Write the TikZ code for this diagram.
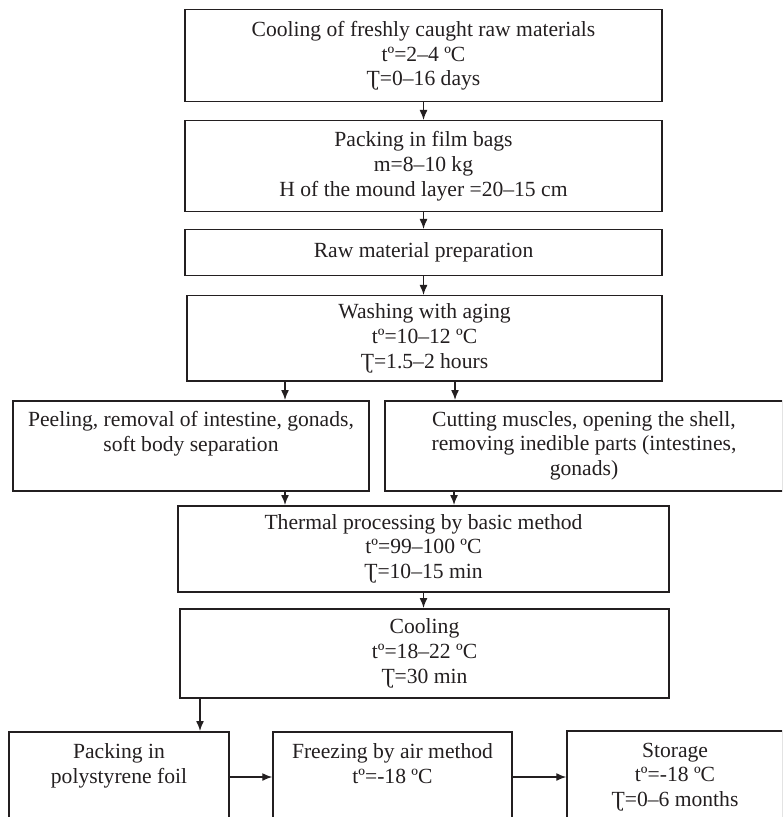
\documentclass[tikz,border=0pt]{standalone}
\usepackage{fontspec}
\setmainfont{Liberation Serif}
\usepackage{tikz}
\usetikzlibrary{arrows.meta}
\definecolor{ink}{RGB}{35,31,32}

\begin{document}
\begin{tikzpicture}[x=0.5pt,y=-0.5pt,
    box/.style={draw=ink,text=ink,line width=0.75pt,align=center,anchor=north,inner xsep=2pt,font=\fontsize{10.8}{12.4}\selectfont},
    openbox/.style={box,inner ysep=6pt,text depth=60pt},
    flow/.style={draw=ink,line width=0.7pt,-{Latex[length=5pt,width=4pt]}}]
  \path[use as bounding box,clip] (0,0) rectangle (782,817);
  \node[box,minimum width=238.5pt,minimum height=46pt](chill) at (423.5,9){Cooling of freshly caught raw materials\\tº=2–4 ºC\\Ʈ=0–16 days};
  \node[box,minimum width=238.5pt,minimum height=45.5pt](bag) at (423.5,120){Packing in film bags\\m=8–10 kg\\H of the mound layer =20–15 cm};
  \node[box,minimum width=238.5pt,minimum height=23pt](prep) at (423.5,229){Raw material preparation};
  \node[box,minimum width=237.5pt,minimum height=42.5pt](wash) at (424.5,295){Washing with aging\\tº=10–12 ºC\\Ʈ=1.5–2 hours};
  \node[box,minimum width=178pt,minimum height=45pt,text depth=14.7pt](peel) at (191,400){Peeling, removal of intestine, gonads,\\soft body separation};
  \node[box,minimum width=199pt,minimum height=45pt](shell) at (584,400){Cutting muscles, opening the shell,\\removing inedible parts (intestines,\\gonads)};
  \node[box,minimum width=245.5pt,minimum height=43pt](heat) at (423.5,505){Thermal processing by basic method\\tº=99–100 ºC\\Ʈ=10–15 min};
  \node[box,minimum width=244.5pt,minimum height=44.5pt](cool) at (424.5,608){Cooling\\tº=18–22 ºC\\Ʈ=30 min};
  \node[openbox,minimum width=110pt](foil) at (119,731){Packing in\\polystyrene foil};
  \node[openbox,minimum width=119.5pt](freeze) at (392.5,731){Freezing by air method\\tº=-18 ºC};
  \node[openbox,minimum width=108pt](store) at (675,730){Storage\\tº=-18 ºC\\Ʈ=0–6 months};
  \draw[flow] (chill.south) -- (bag.north);
  \draw[flow] (bag.south) -- (prep.north);
  \draw[flow] (prep.south) -- (prep.south |- wash.north);
  \draw[flow] (285,0 |- wash.south) -- (285,0 |- peel.north);
  \draw[flow] (455,0 |- wash.south) -- (455,0 |- shell.north);
  \draw[flow] (285,0 |- peel.south) -- (285,0 |- heat.north);
  \draw[flow] (454,0 |- shell.south) -- (454,0 |- heat.north);
  \draw[flow] (heat.south) -- (heat.south |- cool.north);
  \draw[flow] (200,0 |- cool.south) -- (200,0 |- foil.north);
  \draw[flow] (foil.east |- 0,777) -- (freeze.west |- 0,777);
  \draw[flow] (freeze.east |- 0,777) -- (store.west |- 0,777);
\end{tikzpicture}
\end{document}
